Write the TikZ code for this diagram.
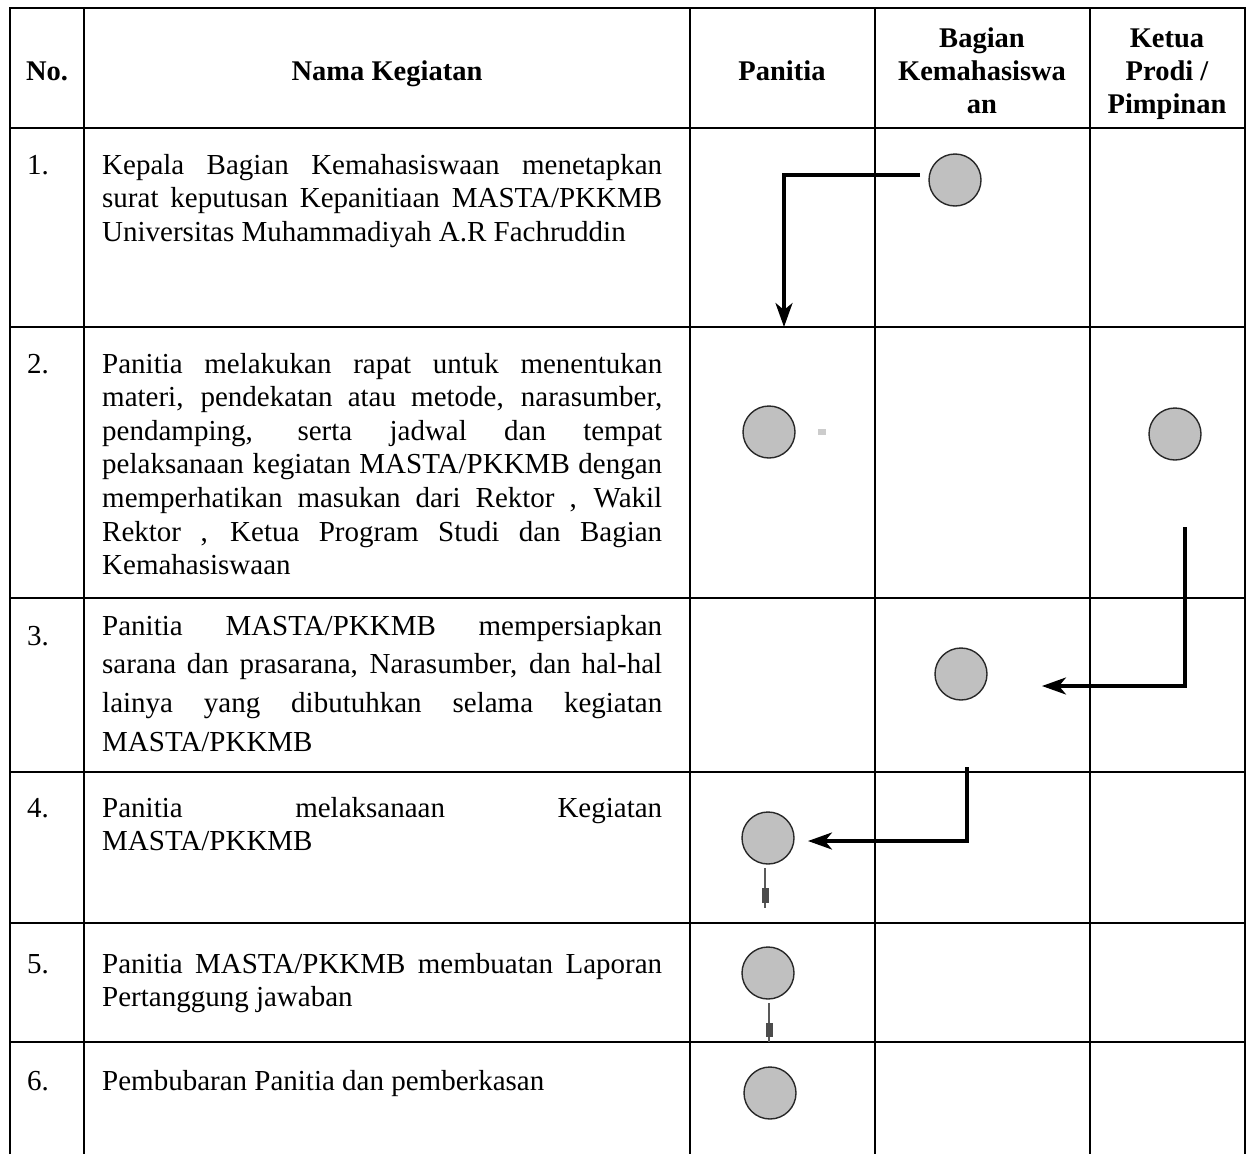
\documentclass[tikz,border=0pt]{standalone}
\usepackage{fontspec}
\setmainfont{Liberation Serif}
\usetikzlibrary{arrows.meta}
\definecolor{cfill}{RGB}{192,192,192}
\definecolor{cline}{RGB}{40,40,40}
\newlength\tw
\setlength\tw{560pt}
\newcommand\jl[1]{\hbox to \tw{\spaceskip=\fontdimen2\font plus 1fil\relax #1}}
\newcommand\nl[1]{\hbox{#1}}
\newcommand\cstack[1]{\vtop{\halign{\hfil##\hfil\cr#1\crcr}}}
\tikzset{
  grid/.style={line width=2.3pt, black},
  txt/.style={anchor=base west, inner sep=0pt, font=\fontsize{29}{33.6}\selectfont},
  head/.style={anchor=base, inner sep=0pt, font=\bfseries\fontsize{28.5}{33}\selectfont},
  dot/.style={circle, minimum size=52pt, inner sep=0pt, fill=cfill, draw=cline, line width=1.4pt},
  flow/.style={line width=3.2pt, black, -{Stealth[length=24pt,width=17pt,inset=7pt]}},
  stub/.style={line width=2.4pt, black!65},
  stubbox/.style={fill=black!70, draw=none}
}
\begin{document}
\begin{tikzpicture}[x=1pt,y=-1pt]
\useasboundingbox (0,0) rectangle (1250,1154);
% table grid
\draw[grid] (10,1154) -- (10,8) -- (1245,8) -- (1245,1154);
\foreach \x in {84,690,875,1090} \draw[grid] (\x,8) -- (\x,1154);
\foreach \y in {128,327,598,772,923,1042} \draw[grid] (10,\y) -- (1245,\y);
% headers
\node[head] (hno) at (47,80) {No.};
\node[head] (hnama) at (387,80) {Nama Kegiatan};
\node[head] (hpan) at (782,80) {Panitia};
\node[head] (hbag) at (982,47) {\cstack{Bagian\cr Kemahasiswa\cr an}};
\node[head] (hket) at (1167,47) {\cstack{Ketua\cr Prodi /\cr Pimpinan}};
% numbers
\node[txt] (n1) at (27,174) {1.};
\node[txt] (n2) at (27,373) {2.};
\node[txt] (n3) at (27,645) {3.};
\node[txt] (n4) at (27,817) {4.};
\node[txt] (n5) at (27,973) {5.};
\node[txt] (n6) at (27,1090) {6.};
% activity texts
\node[txt] (t1) at (102,174) {\vtop{\jl{Kepala Bagian Kemahasiswaan menetapkan}\jl{surat keputusan Kepanitiaan MASTA/PKKMB}\nl{Universitas Muhammadiyah A.R Fachruddin}}};
\node[txt] (t2) at (102,373) {\vtop{\jl{Panitia melakukan rapat untuk menentukan}\jl{materi, pendekatan atau metode, narasumber,}\jl{pendamping, serta jadwal dan tempat}\jl{pelaksanaan kegiatan MASTA/PKKMB dengan}\jl{memperhatikan masukan dari Rektor , Wakil}\jl{Rektor , Ketua Program Studi dan Bagian}\nl{Kemahasiswaan}}};
\node[txt] (t3) at (102,635) {\vtop{\baselineskip=38.8pt\jl{Panitia MASTA/PKKMB mempersiapkan}\jl{sarana dan prasarana, Narasumber, dan hal-hal}\jl{lainya yang dibutuhkan selama kegiatan}\nl{MASTA/PKKMB}}};
\node[txt] (t4) at (102,817) {\vtop{\jl{Panitia melaksanaan Kegiatan}\nl{MASTA/PKKMB}}};
\node[txt] (t5) at (102,973) {\vtop{\jl{Panitia MASTA/PKKMB membuatan Laporan}\nl{Pertanggung jawaban}}};
\node[txt] (t6) at (102,1090) {Pembubaran Panitia dan pemberkasan};
% circles
\node[dot] (c1) at (955,180) {};
\node[dot] (c2a) at (769,432) {};
\node[dot] (c2b) at (1175,434) {};
\node[dot] (c3) at (961,674) {};
\node[dot] (c4) at (768,838) {};
\node[dot] (c5) at (768,973) {};
\node[dot] (c6) at (770,1093) {};
% connectors
\coordinate (s1) at (920,175);
\coordinate (e1) at (784,327);
\draw[flow] (s1) -| (e1);
\coordinate (s2) at (1185,527);
\coordinate (e2) at (1042,686);
\draw[flow] (s2) |- (e2);
\coordinate (s3) at (967,767);
\coordinate (e3) at (808,841);
\draw[flow] (s3) |- (e3);
% short stubs below circles
\coordinate (u4) at (765,868);
\coordinate (v4) at (765,908);
\draw[stub] (u4) -- (v4);
\fill[stubbox] (762,888) rectangle (768.5,903);
\coordinate (u5) at (769,1003);
\coordinate (v5) at (769,1042);
\draw[stub] (u5) -- (v5);
\fill[stubbox] (766,1023) rectangle (772.5,1037);
% faint mark
\fill[black!20] (818,429) rectangle (826,435);
\end{tikzpicture}
\end{document}
